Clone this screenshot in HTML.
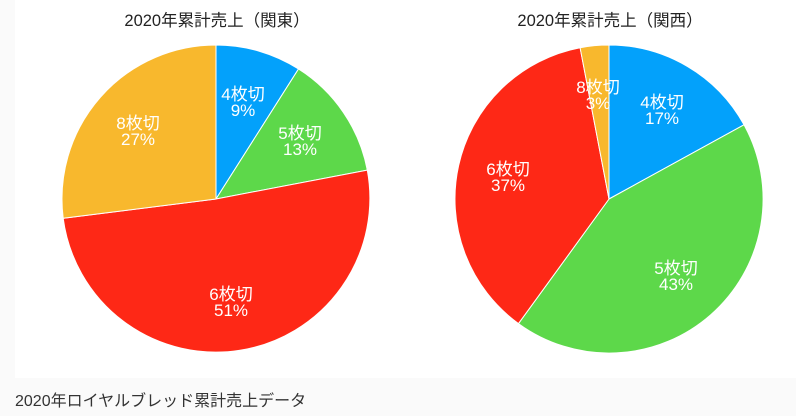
<!DOCTYPE html>
<html><head><meta charset="utf-8"><style>
html,body{margin:0;padding:0;background:#fafafa;width:796px;height:416px;overflow:hidden}
svg{position:absolute;left:0;top:0}
text{font-family:"Liberation Sans","Noto Sans CJK JP",sans-serif}
</style></head><body>
<svg width="796" height="416" viewBox="0 0 796 416">
<rect x="15" y="0" width="781" height="378" fill="#fff"/>
<text x="217" y="26" font-size="16.5" text-anchor="middle" fill="#222">2020年累計売上（関東）</text>
<text x="610" y="26" font-size="16.5" text-anchor="middle" fill="#222">2020年累計売上（関西）</text>
<g stroke="#fff" stroke-width="1">
<path d="M216,199 L216,45 A154,154 0 0 1 298.5,69 Z" fill="#03a1fb"/>
<path d="M216,199 L298.5,69 A154,154 0 0 1 367.3,170.1 Z" fill="#5dd84a"/>
<path d="M216,199 L367.3,170.1 A154,154 0 1 1 63.2,218.3 Z" fill="#fe2816"/>
<path d="M216,199 L63.2,218.3 A154,154 0 0 1 216,45 Z" fill="#f8b82d"/>
<path d="M609,199 L609,45 A154,154 0 0 1 744,124.8 Z" fill="#03a1fb"/>
<path d="M609,199 L744,124.8 A154,154 0 0 1 518.5,323.6 Z" fill="#5dd84a"/>
<path d="M609,199 L518.5,323.6 A154,154 0 0 1 580.1,47.7 Z" fill="#fe2816"/>
<path d="M609,199 L580.1,47.7 A154,154 0 0 1 609,45 Z" fill="#f8b82d"/>
</g>
<g font-size="17" fill="#fff" text-anchor="middle">
<text x="243" y="100">4枚切</text><text x="243" y="116">9%</text>
<text x="300" y="139">5枚切</text><text x="300" y="155">13%</text>
<text x="231" y="300">6枚切</text><text x="231" y="316">51%</text>
<text x="138" y="129">8枚切</text><text x="138" y="145">27%</text>
<text x="662" y="108">4枚切</text><text x="662" y="124">17%</text>
<text x="676" y="274">5枚切</text><text x="676" y="290">43%</text>
<text x="508" y="175">6枚切</text><text x="508" y="191">37%</text>
<text x="598" y="93">8枚切</text><text x="598" y="109">3%</text>
</g>
<text x="15" y="406" font-size="16" fill="#333">2020年ロイヤルブレッド累計売上データ</text>
</svg>
</body></html>
